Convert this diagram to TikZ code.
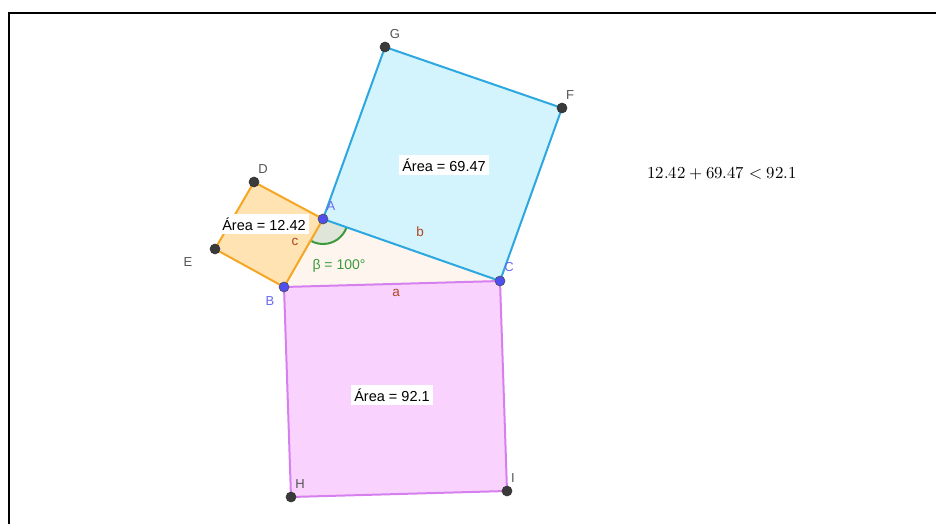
\documentclass[tikz,border=0pt]{standalone}
\usepackage{fontspec}
\setmainfont{Liberation Sans}
\usepackage{unicode-math}
\setmathfont{Latin Modern Math}
\definecolor{bluel}{HTML}{2DA7E0}
\definecolor{bluef}{HTML}{D3F4FC}
\definecolor{orgl}{HTML}{F5A623}
\definecolor{orgf}{HTML}{FFE3B3}
\definecolor{magl}{HTML}{D680F0}
\definecolor{magf}{HTML}{F9D3FD}
\definecolor{trif}{HTML}{FDF5EE}
\definecolor{angf}{HTML}{DFE5D8}
\definecolor{angl}{HTML}{3C9A3C}
\definecolor{ptblue}{HTML}{4F4FF0}
\definecolor{lblblue}{HTML}{6A6AF5}
\definecolor{sidel}{HTML}{B0451E}
\definecolor{ptgray}{HTML}{3A3A3A}
\definecolor{lblgray}{HTML}{555555}
\tikzset{
  pt/.style={circle,fill=ptgray,draw=black!80,line width=0.6pt,inner sep=0pt,minimum size=10pt},
  ptb/.style={circle,fill=ptblue,draw=black!70,line width=0.6pt,inner sep=0pt,minimum size=10pt},
  lbl/.style={text=lblgray,font=\fontsize{13}{15}\selectfont,inner sep=0pt},
  lblb/.style={text=lblblue,font=\fontsize{13}{15}\selectfont,inner sep=0pt},
  side/.style={text=sidel,font=\fontsize{13.5}{15}\selectfont,inner sep=0pt},
  area/.style={fill=white,text=black,font=\fontsize{14.5}{16}\selectfont,inner sep=3.5pt},
  edge/.style={line width=2pt,line join=round}
}
\begin{document}
\begin{tikzpicture}[x=1pt,y={(0pt,-1pt)}]
\useasboundingbox (0,0) rectangle (936,524);
\fill[white] (0,0) rectangle (936,524);
\coordinate (A) at (323,219);
\coordinate (B) at (284,287);
\coordinate (C) at (500,281);
\coordinate (D) at (254,182);
\coordinate (E) at (215,249);
\coordinate (G) at (385,47);
\coordinate (F) at (562,108);
\coordinate (H) at (291,497);
\coordinate (I) at (507,491);
% frame
\draw[line width=2.5pt] (9,524) -- (9,13) -- (936,13);
% fills
\fill[trif] (A) -- (B) -- (C) -- cycle;
\fill[bluef] (A) -- (G) -- (F) -- (C) -- cycle;
\fill[orgf] (A) -- (D) -- (E) -- (B) -- cycle;
\fill[magf] (B) -- (H) -- (I) -- (C) -- cycle;
% angle
\fill[angf] (A) -- ++(19.3:25) arc[start angle=19.3,end angle=119.8,radius=25] -- cycle;
\draw[angl,line width=2pt] ([shift={(19.3:25)}]A) arc[start angle=19.3,end angle=119.8,radius=25];
% edges
\draw[edge,bluel] (A) -- (G) -- (F) -- (C) -- (A);
\draw[edge,orgl] (A) -- (D) -- (E) -- (B) -- (A);
\draw[edge,magl] (B) -- (H) -- (I) -- (C) -- (B);
% area labels
\node[area] (a1) at (444,165) {Área = 69.47};
\node[area] (a2) at (264,224) {Área = 12.42};
\node[area] (a3) at (392,395) {Área = 92.1};
% side labels
\node[side] (lb) at (420,232) {b};
\node[side] (la) at (396,293) {a};
\node[side] (lc) at (295,242) {c};
\node[text=angl,font=\fontsize{14}{16}\selectfont,inner sep=0pt] (beta) at (339,266) {β = 100°};
% points
\node[pt] (pD) at (D) {};
\node[pt] (pE) at (E) {};
\node[pt] (pG) at (G) {};
\node[pt] (pF) at (F) {};
\node[pt] (pH) at (H) {};
\node[pt] (pI) at (I) {};
\node[ptb] (pA) at (A) {};
\node[ptb] (pB) at (B) {};
\node[ptb] (pC) at (C) {};
% point labels
\node[lbl] (tG) at (395,34) {G};
\node[lbl] (tF) at (570,95) {F};
\node[lbl] (tD) at (263,169) {D};
\node[lbl] (tE) at (188,262) {E};
\node[lbl] (tH) at (300,484) {H};
\node[lbl] (tI) at (513,478) {I};
\node[lblb] (tA) at (331,206) {A};
\node[lblb] (tB) at (270,301) {B};
\node[lblb] (tC) at (509,267) {C};
% formula
\node[font=\fontsize{16.8}{19}\selectfont,inner sep=0pt] (eq) at (722,174) {$12.42+69.47<92.1$};
\end{tikzpicture}
\end{document}
